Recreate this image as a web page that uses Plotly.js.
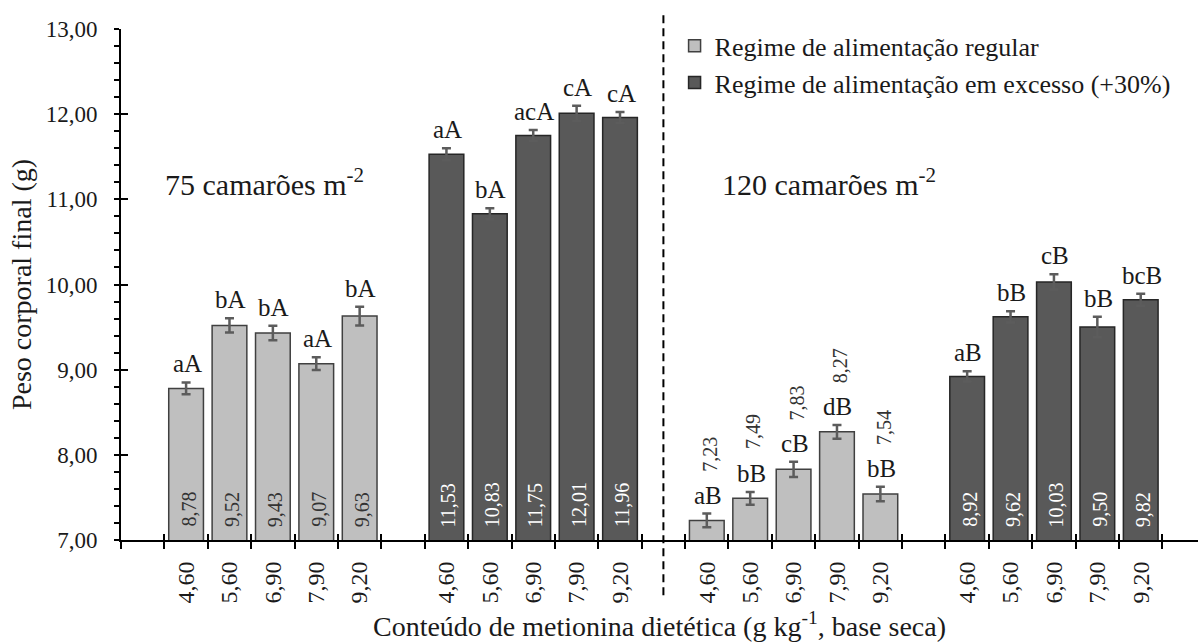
<!DOCTYPE html>
<html>
<head>
<meta charset="utf-8">
<script src="https://cdn.plot.ly/plotly-3.0.1.min.js"></script>
<style>html,body{margin:0;padding:0;background:#fff;}#chart{width:1198px;height:643px;}</style>
</head>
<body>
<div id="chart"></div>
<script>
// ---- data ----
const doses = ['4,60', '5,60', '6,90', '7,90', '9,20'];

const regular75 = [8.78, 9.52, 9.43, 9.07, 9.63];
const regular75Err = [0.07, 0.085, 0.085, 0.075, 0.11];
const regular75Letters = ['aA', 'bA', 'bA', 'aA', 'bA'];

const excess75 = [11.53, 10.83, 11.75, 12.01, 11.96];
const excess75Err = [0.07, 0.065, 0.065, 0.09, 0.065];
const excess75Letters = ['aA', 'bA', 'acA', 'cA', 'cA'];

const regular120 = [7.23, 7.49, 7.83, 8.27, 7.54];
const regular120Err = [0.08, 0.075, 0.09, 0.08, 0.085];
const regular120Letters = ['aB', 'bB', 'cB', 'dB', 'bB'];

const excess120 = [8.92, 9.62, 10.03, 9.50, 9.82];
const excess120Err = [0.06, 0.065, 0.09, 0.12, 0.07];
const excess120Letters = ['aB', 'bB', 'cB', 'bB', 'bcB'];

const seriesNames = ['Regime de alimentação regular', 'Regime de alimentação em excesso (+30%)'];
const densityLabels = ['75 camarões m<sup>-2</sup>', '120 camarões m<sup>-2</sup>'];

// ---- build ----
const FONT = 'Liberation Serif';
const TXT = '#1a1a1a';
const groups = [
  {vals: regular75, err: regular75Err, letters: regular75Letters, s: 0},
  {vals: excess75, err: excess75Err, letters: excess75Letters, s: 1},
  {vals: regular120, err: regular120Err, letters: regular120Letters, s: 0},
  {vals: excess120, err: excess120Err, letters: excess120Letters, s: 1}
];
const fmt = v => v.toFixed(2).replace('.', ',');
const YMIN = 7, YMAX = 13;

const seriesData = [{x: [], y: [], e: []}, {x: [], y: [], e: []}];
const tickvals = [], ticktext = [];
const annotations = [];

groups.forEach((g, gi) => {
  g.vals.forEach((v, i) => {
    const pos = 1 + 6 * gi + i;
    seriesData[g.s].x.push(pos);
    seriesData[g.s].y.push(v);
    seriesData[g.s].e.push(g.err[i]);
    tickvals.push(pos);
    ticktext.push(doses[i]);
    annotations.push({
      x: pos, y: v + g.err[i], xref: 'x', yref: 'y',
      text: g.letters[i], showarrow: false, xanchor: 'center', yanchor: 'bottom',
      yshift: 3, xshift: 1, font: {family: FONT, size: 25, color: TXT}
    });
    const inside = (v - YMIN) > 1.5;
    annotations.push(inside ? {
      x: pos, y: YMIN, xref: 'x', yref: 'y', text: fmt(v), showarrow: false,
      textangle: -90, xanchor: 'center', yanchor: 'bottom', yshift: 11, xshift: 2,
      font: {family: FONT, size: 20, color: g.s === 1 ? '#ffffff' : '#333333'}
    } : {
      x: pos, y: v, xref: 'x', yref: 'y', text: fmt(v), showarrow: false,
      textangle: -90, xanchor: 'center', yanchor: 'bottom', yshift: 47, xshift: 3,
      font: {family: FONT, size: 20, color: '#333333'}
    });
  });
});

annotations.push({x: 0.47, y: 11.2, xref: 'x', yref: 'y', text: densityLabels[0], showarrow: false,
  xanchor: 'left', yanchor: 'middle', font: {family: FONT, size: 30, color: TXT}});
annotations.push({x: 13.3, y: 11.2, xref: 'x', yref: 'y', text: densityLabels[1], showarrow: false,
  xanchor: 'left', yanchor: 'middle', font: {family: FONT, size: 30, color: TXT}});

const colors = [
  {fill: '#bfbfbf', line: '#404040'},
  {fill: '#595959', line: '#262626'}
];

const traces = seriesData.map((d, s) => ({
  type: 'bar', name: seriesNames[s], x: d.x, y: d.y, width: 0.8,
  marker: {color: colors[s].fill, line: {color: colors[s].line, width: 1.5}},
  error_y: {type: 'data', array: d.e, visible: true, color: '#5c5c5c', thickness: 2.5, width: 4.5},
  hoverinfo: 'skip'
}));
traces.push({type: 'scatter', x: [], y: [], xaxis: 'x2', yaxis: 'y', showlegend: false, hoverinfo: 'skip'});
traces.push({type: 'scatter', x: [], y: [], xaxis: 'x3', yaxis: 'y', showlegend: false, hoverinfo: 'skip'});
traces.push({type: 'scatter', x: [], y: [], xaxis: 'x', yaxis: 'y2', showlegend: false, hoverinfo: 'skip'});

const XR = [-0.5, 24.32];
const separatorX = (11 + 13) / 2;

const layout = {
  width: 1198, height: 643,
  margin: {l: 121, r: 0, t: 29, b: 103, autoexpand: false},
  paper_bgcolor: '#ffffff', plot_bgcolor: 'rgba(0,0,0,0)',
  separators: ',.',
  barmode: 'overlay',
  font: {family: FONT, color: TXT},
  showlegend: true,
  legend: {
    x: 0.514, y: 1.013, xanchor: 'left', yanchor: 'top',
    font: {family: FONT, size: 26, color: TXT},
    bgcolor: 'rgba(0,0,0,0)', itemwidth: 30, tracegroupgap: 0
  },
  xaxis: {
    type: 'linear', range: XR, tickmode: 'array', tickvals: tickvals, ticktext: ticktext,
    ticks: '', tickangle: -90, ticklabelstandoff: 10,
    tickfont: {family: FONT, size: 24, color: TXT},
    showline: true, linecolor: '#000', linewidth: 2, showgrid: false, zeroline: false,
    title: {text: 'Conteúdo de metionina dietética (g kg<sup>-1</sup>, base seca)',
      font: {family: FONT, size: 28, color: TXT}, standoff: 14}
  },
  xaxis2: {
    overlaying: 'x', anchor: 'y', range: XR, tickmode: 'linear', tick0: -0.5, dtick: 1,
    ticks: 'outside', ticklen: 8, tickwidth: 2, tickcolor: '#000', showticklabels: false,
    showline: false, showgrid: false, zeroline: false
  },
  xaxis3: {
    overlaying: 'x', anchor: 'y', range: XR, tickmode: 'linear', tick0: -0.5, dtick: 1,
    ticks: 'inside', ticklen: 6, tickwidth: 2, tickcolor: '#000', showticklabels: false,
    showline: false, showgrid: false, zeroline: false
  },
  yaxis: {
    range: [YMIN, YMAX], tickmode: 'linear', tick0: 7, dtick: 1, tickformat: '.2f',
    ticks: 'outside', ticklen: 5, tickwidth: 2, tickcolor: '#000', ticklabelstandoff: 12,
    minor: {dtick: 0.2, ticks: 'outside', ticklen: 5, tickwidth: 2, tickcolor: '#000', showgrid: false},
    tickfont: {family: FONT, size: 23, color: TXT},
    showline: true, linecolor: '#000', linewidth: 2, showgrid: false, zeroline: false,
    title: {text: 'Peso corporal final (g)', font: {family: FONT, size: 28, color: TXT}, standoff: 6}
  },
  yaxis2: {
    overlaying: 'y', anchor: 'x', side: 'left', range: [YMIN, YMAX], tickmode: 'linear', tick0: 7, dtick: 1,
    ticks: 'inside', ticklen: 7, tickwidth: 2, tickcolor: '#000', showticklabels: false,
    showline: false, showgrid: false, zeroline: false
  },
  shapes: [{
    type: 'line', xref: 'x', yref: 'paper', x0: separatorX, x1: separatorX, y0: -0.108, y1: 1.035,
    line: {color: '#000', width: 2, dash: '8px,5px'}
  }],
  annotations: annotations
};

Plotly.newPlot('chart', traces, layout, {staticPlot: true, displayModeBar: false});
</script>
</body>
</html>
